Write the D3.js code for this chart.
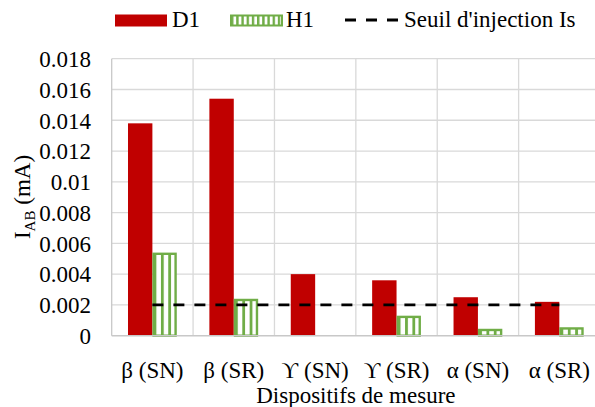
<!DOCTYPE html>
<html><head><meta charset="utf-8">
<script src="https://cdn.jsdelivr.net/npm/d3@7"></script>
<style>body{margin:0;background:#fff}svg{display:block}</style>
</head><body><svg id="c" width="595" height="407"></svg>
<script>
const categories = ["β (SN)", "β (SR)", "ϒ (SN)", "ϒ (SR)", "α (SN)", "α (SR)"];
const seriesNames = ["D1", "H1"];
const d1 = [0.0138, 0.0154, 0.0040, 0.0036, 0.0025, 0.0022];
const h1 = [0.0054, 0.0024, 0, 0.0013, 0.00045, 0.00055];
const threshold = 0.002;
const thresholdLabel = "Seuil d'injection Is";
const yTicks = [0, 0.002, 0.004, 0.006, 0.008, 0.01, 0.012, 0.014, 0.016, 0.018];
const xTitle = "Dispositifs de mesure";

const FONT = "Liberation Serif";
const FS = 23;
const svg = d3.select("#c");
const L = 111.7, R = 600, T = 58.7, B = 335.7;
const red = "#c00000", green = "#70ad47";

const defs = svg.append("defs");
// bar stripes: three tiles per bar
const pat = defs.append("pattern").attr("id","vs").attr("patternUnits","objectBoundingBox")
  .attr("x",0).attr("y",0).attr("width",1/3).attr("height",1);
pat.append("rect").attr("width",20).attr("height",400).attr("fill","#fff");
pat.append("rect").attr("x",0).attr("width",2.8).attr("height",400).attr("fill",green);
// legend stripes
const pat2 = defs.append("pattern").attr("id","vs2").attr("patternUnits","userSpaceOnUse")
  .attr("x",231).attr("width",5.2).attr("height",10);
pat2.append("rect").attr("width",5.2).attr("height",10).attr("fill","#fff");
pat2.append("rect").attr("x",0).attr("width",2.4).attr("height",10).attr("fill",green);

const x = d3.scaleBand().domain(categories).range([L, R]).padding(0);
const xs = d3.scaleBand().domain(seriesNames).range([0, x.bandwidth()]).paddingInner(0).paddingOuter(0.668);
const y = d3.scaleLinear().domain([0, 0.018]).range([B, T]);

// gridlines
const g = svg.append("g");
g.selectAll(".hg").data(yTicks.slice(1)).join("line")
  .attr("x1", L).attr("x2", R).attr("y1", d=>y(d)).attr("y2", d=>y(d))
  .attr("stroke","#d9d9d9").attr("stroke-width",1.3);
g.selectAll(".vg").data(categories.slice(1)).join("line")
  .attr("x1", d=>x(d)).attr("x2", d=>x(d)).attr("y1", T).attr("y2", B)
  .attr("stroke","#d9d9d9").attr("stroke-width",1.3);
g.append("line").attr("x1",L).attr("x2",L).attr("y1",T).attr("y2",B).attr("stroke","#c8c8c8").attr("stroke-width",1.3);

// bars
const rows = categories.map((c,i)=>({c, D1:d1[i], H1:h1[i]}));
svg.append("g").selectAll("rect").data(rows).join("rect")
  .attr("x", d=>x(d.c)+xs("D1")).attr("width", xs.bandwidth())
  .attr("y", d=>y(d.D1)).attr("height", d=>B - y(d.D1)).attr("fill", red);
svg.append("g").selectAll("rect").data(rows.filter(d=>d.H1>0)).join("rect")
  .attr("x", d=>x(d.c)+xs("H1")+1.2).attr("width", xs.bandwidth()-2.4)
  .attr("y", d=>y(d.H1)+1.2).attr("height", d=>Math.max(0,B - y(d.H1)-1.2))
  .attr("fill", "url(#vs)").attr("stroke", green).attr("stroke-width",2.4);

// bottom axis line
svg.append("line").attr("x1",L).attr("x2",R).attr("y1",B).attr("y2",B).attr("stroke","#c8c8c8").attr("stroke-width",1.5);

// threshold line
svg.append("line")
  .attr("x1", x(categories[0]) + x.bandwidth()/2)
  .attr("x2", x(categories[categories.length-1]) + x.bandwidth()/2)
  .attr("y1", y(threshold)).attr("y2", y(threshold))
  .attr("stroke","#000").attr("stroke-width",2.8).attr("stroke-dasharray","11 10");

// y axis labels
const yAxis = d3.axisLeft(y).tickValues(yTicks).tickSize(0).tickPadding(0).tickFormat(d=>String(+d.toFixed(3)));
const ya = svg.append("g").attr("transform",`translate(91,0)`).call(yAxis);
ya.select(".domain").remove();
ya.selectAll("text").attr("font-size",FS).style("font-family",FONT).attr("fill","#000").attr("dy","0.34em");

// x axis labels
const xAxis = d3.axisBottom(x).tickSize(0).tickPadding(0);
const xa = svg.append("g").attr("transform",`translate(0,${B})`).call(xAxis);
xa.select(".domain").remove();
xa.selectAll("text").attr("font-size",FS).style("font-family",FONT).attr("fill","#000").attr("dy",null).attr("y",42);

// titles
svg.append("text").attr("x",(L+R)/2).attr("y",403).attr("text-anchor","middle")
  .attr("font-size",FS).style("font-family",FONT).text(xTitle);
const yt = svg.append("text").attr("transform","translate(30,197) rotate(-90)").attr("text-anchor","middle")
  .attr("font-size",FS).style("font-family",FONT);
yt.append("tspan").text("I");
yt.append("tspan").attr("font-size",15).attr("dy",5).text("AB");
yt.append("tspan").attr("dy",-5).text(" (mA)");

// legend
const lg = svg.append("g");
lg.append("rect").attr("x",115).attr("y",14.5).attr("width",52).attr("height",12).attr("fill",red);
lg.append("text").attr("x",172).attr("y",27.3).attr("font-size",FS).style("font-family",FONT).text(seriesNames[0]);
lg.append("rect").attr("x",231).attr("y",15.5).attr("width",51).attr("height",10).attr("fill","url(#vs2)").attr("stroke",green).attr("stroke-width",2);
lg.append("text").attr("x",286).attr("y",27.3).attr("font-size",FS).style("font-family",FONT).text(seriesNames[1]);
lg.append("line").attr("x1",345).attr("x2",400).attr("y1",20).attr("y2",20).attr("stroke","#000").attr("stroke-width",2.8).attr("stroke-dasharray","11 10");
lg.append("text").attr("x",404).attr("y",27.3).attr("font-size",FS).style("font-family",FONT).text(thresholdLabel);
</script></body></html>
